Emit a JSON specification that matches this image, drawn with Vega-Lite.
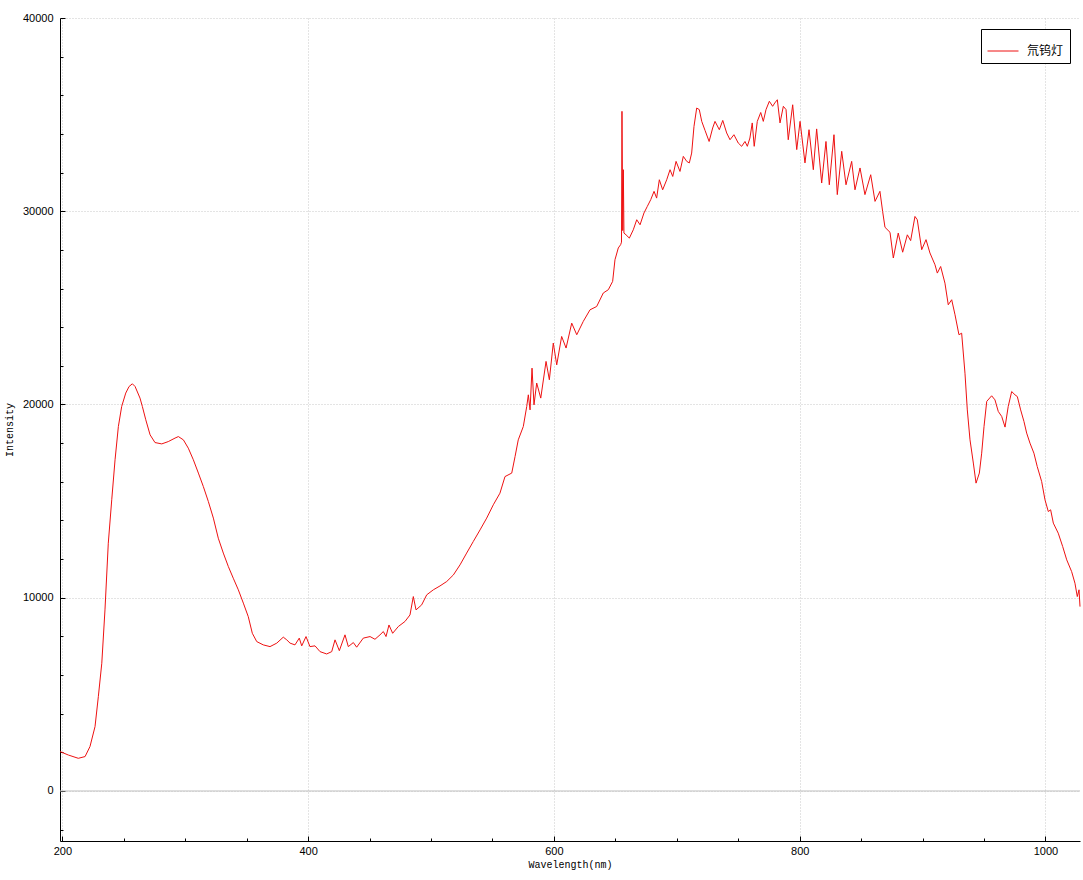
{
  "$schema": "https://vega.github.io/schema/vega-lite/v6.json",
  "autosize": "none",
  "width": 1020,
  "height": 823,
  "padding": {"left": 60, "top": 18, "right": 3, "bottom": 39},
  "background": "white",
  "view": {"stroke": null},
  "config": {
    "axis": {
      "labelFont": "Liberation Sans",
      "labelFontSize": 11,
      "labelColor": "#000000",
      "domainColor": "#000000",
      "tickColor": "#000000",
      "titleFont": "Liberation Mono",
      "titleFontSize": 10,
      "titleFontWeight": "normal",
      "titleColor": "#000000"
    }
  },
  "datasets": {
    "spec": [
      {"w":198.1,"v":2040,"s":"氘钨灯"},{"w":204.9,"v":1860,"s":"氘钨灯"},{"w":213.0,"v":1690,"s":"氘钨灯"},{"w":218.5,"v":1780,"s":"氘钨灯"},
      {"w":222.5,"v":2300,"s":"氘钨灯"},{"w":226.6,"v":3330,"s":"氘钨灯"},{"w":229.3,"v":4880,"s":"氘钨灯"},{"w":232.1,"v":6610,"s":"氘钨灯"},
      {"w":234.7,"v":9370,"s":"氘钨灯"},{"w":237.4,"v":12820,"s":"氘钨灯"},{"w":240.2,"v":15070,"s":"氘钨灯"},{"w":242.9,"v":17140,"s":"氘钨灯"},
      {"w":245.6,"v":18860,"s":"氘钨灯"},{"w":248.3,"v":19900,"s":"氘钨灯"},{"w":251.6,"v":20590,"s":"氘钨灯"},{"w":254.3,"v":20930,"s":"氘钨灯"},
      {"w":257.0,"v":21070,"s":"氘钨灯"},{"w":259.2,"v":20930,"s":"氘钨灯"},{"w":263.2,"v":20330,"s":"氘钨灯"},{"w":265.1,"v":19900,"s":"氘钨灯"},
      {"w":267.9,"v":19210,"s":"氘钨灯"},{"w":271.4,"v":18430,"s":"氘钨灯"},{"w":275.4,"v":18030,"s":"氘钨灯"},{"w":280.9,"v":17960,"s":"氘钨灯"},
      {"w":286.2,"v":18080,"s":"氘钨灯"},{"w":291.7,"v":18260,"s":"氘钨灯"},{"w":294.4,"v":18340,"s":"氘钨灯"},{"w":298.5,"v":18170,"s":"氘钨灯"},
      {"w":302.5,"v":17740,"s":"氘钨灯"},{"w":306.6,"v":17140,"s":"氘钨灯"},{"w":310.7,"v":16450,"s":"氘钨灯"},{"w":314.7,"v":15760,"s":"氘钨灯"},
      {"w":318.8,"v":14980,"s":"氘钨灯"},{"w":322.9,"v":14120,"s":"氘钨灯"},{"w":326.9,"v":13080,"s":"氘钨灯"},{"w":331.0,"v":12310,"s":"氘钨灯"},
      {"w":335.1,"v":11610,"s":"氘钨灯"},{"w":339.1,"v":11010,"s":"氘钨灯"},{"w":343.2,"v":10410,"s":"氘钨灯"},{"w":347.3,"v":9720,"s":"氘钨灯"},
      {"w":351.3,"v":9020,"s":"氘钨灯"},{"w":354.6,"v":8160,"s":"氘钨灯"},{"w":358.2,"v":7730,"s":"氘钨灯"},{"w":363.5,"v":7560,"s":"氘钨灯"},
      {"w":369.0,"v":7470,"s":"氘钨灯"},{"w":374.5,"v":7650,"s":"氘钨灯"},{"w":379.8,"v":7960,"s":"氘钨灯"},{"w":382.6,"v":7820,"s":"氘钨灯"},
      {"w":385.3,"v":7650,"s":"氘钨灯"},{"w":389.3,"v":7560,"s":"氘钨灯"},{"w":392.8,"v":7910,"s":"氘钨灯"},{"w":394.8,"v":7510,"s":"氘钨灯"},
      {"w":398.3,"v":7990,"s":"氘钨灯"},{"w":401.5,"v":7470,"s":"氘钨灯"},{"w":405.6,"v":7510,"s":"氘钨灯"},{"w":409.7,"v":7210,"s":"氘钨灯"},
      {"w":415.1,"v":7090,"s":"氘钨灯"},{"w":419.2,"v":7210,"s":"氘钨灯"},{"w":421.9,"v":7820,"s":"氘钨灯"},{"w":425.4,"v":7260,"s":"氘钨灯"},
      {"w":430.0,"v":8080,"s":"氘钨灯"},{"w":432.7,"v":7470,"s":"氘钨灯"},{"w":436.8,"v":7680,"s":"氘钨灯"},{"w":439.5,"v":7440,"s":"氘钨灯"},
      {"w":444.9,"v":7910,"s":"氘钨灯"},{"w":450.4,"v":7990,"s":"氘钨灯"},{"w":454.4,"v":7850,"s":"氘钨灯"},{"w":458.5,"v":8080,"s":"氘钨灯"},
      {"w":461.2,"v":8250,"s":"氘钨灯"},{"w":463.4,"v":7990,"s":"氘钨灯"},{"w":465.8,"v":8590,"s":"氘钨灯"},{"w":468.8,"v":8160,"s":"氘钨灯"},
      {"w":473.4,"v":8510,"s":"氘钨灯"},{"w":478.8,"v":8770,"s":"氘钨灯"},{"w":482.9,"v":9110,"s":"氘钨灯"},{"w":485.6,"v":10060,"s":"氘钨灯"},
      {"w":487.8,"v":9370,"s":"氘钨灯"},{"w":492.4,"v":9630,"s":"氘钨灯"},{"w":496.5,"v":10150,"s":"氘钨灯"},{"w":501.9,"v":10410,"s":"氘钨灯"},
      {"w":507.3,"v":10610,"s":"氘钨灯"},{"w":512.8,"v":10840,"s":"氘钨灯"},{"w":518.2,"v":11180,"s":"氘钨灯"},{"w":523.6,"v":11700,"s":"氘钨灯"},
      {"w":529.0,"v":12310,"s":"氘钨灯"},{"w":534.4,"v":12910,"s":"氘钨灯"},{"w":539.9,"v":13510,"s":"氘钨灯"},{"w":545.3,"v":14120,"s":"氘钨灯"},
      {"w":550.7,"v":14810,"s":"氘钨灯"},{"w":556.1,"v":15410,"s":"氘钨灯"},{"w":560.2,"v":16270,"s":"氘钨灯"},{"w":565.7,"v":16450,"s":"氘钨灯"},
      {"w":568.4,"v":17310,"s":"氘钨灯"},{"w":571.0,"v":18170,"s":"氘钨灯"},{"w":575.1,"v":18860,"s":"氘钨灯"},{"w":577.9,"v":19900,"s":"氘钨灯"},
      {"w":579.2,"v":20500,"s":"氘钨灯"},{"w":580.6,"v":19720,"s":"氘钨灯"},{"w":582.2,"v":21880,"s":"氘钨灯"},{"w":583.8,"v":19980,"s":"氘钨灯"},
      {"w":586.0,"v":21110,"s":"氘钨灯"},{"w":589.3,"v":20330,"s":"氘钨灯"},{"w":593.6,"v":22230,"s":"氘钨灯"},{"w":596.3,"v":21280,"s":"氘钨灯"},
      {"w":599.5,"v":23180,"s":"氘钨灯"},{"w":602.3,"v":22050,"s":"氘钨灯"},{"w":606.3,"v":23520,"s":"氘钨灯"},{"w":609.9,"v":22920,"s":"氘钨灯"},
      {"w":614.5,"v":24210,"s":"氘钨灯"},{"w":618.6,"v":23610,"s":"氘钨灯"},{"w":623.9,"v":24300,"s":"氘钨灯"},{"w":629.4,"v":24900,"s":"氘钨灯"},
      {"w":634.8,"v":25070,"s":"氘钨灯"},{"w":640.2,"v":25770,"s":"氘钨灯"},{"w":644.3,"v":25940,"s":"氘钨灯"},{"w":647.8,"v":26370,"s":"氘钨灯"},
      {"w":649.7,"v":27490,"s":"氘钨灯"},{"w":652.4,"v":28100,"s":"氘钨灯"},{"w":654.3,"v":28270,"s":"氘钨灯"},{"w":655.0,"v":28400,"s":"氘钨灯"},
      {"w":655.4,"v":35170,"s":"氘钨灯"},{"w":656.0,"v":29000,"s":"氘钨灯"},{"w":656.5,"v":32150,"s":"氘钨灯"},{"w":657.0,"v":28870,"s":"氘钨灯"},
      {"w":658.7,"v":28780,"s":"氘钨灯"},{"w":661.4,"v":28610,"s":"氘钨灯"},{"w":664.6,"v":29040,"s":"氘钨灯"},{"w":667.4,"v":29560,"s":"氘钨灯"},
      {"w":670.1,"v":29300,"s":"氘钨灯"},{"w":673.3,"v":29910,"s":"氘钨灯"},{"w":676.0,"v":30250,"s":"氘钨灯"},{"w":678.8,"v":30600,"s":"氘钨灯"},
      {"w":681.5,"v":31030,"s":"氘钨灯"},{"w":683.6,"v":30680,"s":"氘钨灯"},{"w":685.8,"v":31630,"s":"氘钨灯"},{"w":688.5,"v":31110,"s":"氘钨灯"},
      {"w":691.8,"v":31630,"s":"氘钨灯"},{"w":694.5,"v":32150,"s":"氘钨灯"},{"w":696.7,"v":31800,"s":"氘钨灯"},{"w":699.4,"v":32580,"s":"氘钨灯"},
      {"w":702.6,"v":32060,"s":"氘钨灯"},{"w":705.3,"v":32840,"s":"氘钨灯"},{"w":708.1,"v":32580,"s":"氘钨灯"},{"w":710.2,"v":32500,"s":"氘钨灯"},
      {"w":712.1,"v":33010,"s":"氘钨灯"},{"w":714.0,"v":34390,"s":"氘钨灯"},{"w":716.2,"v":35340,"s":"氘钨灯"},{"w":718.3,"v":35260,"s":"氘钨灯"},
      {"w":720.3,"v":34650,"s":"氘钨灯"},{"w":723.0,"v":34180,"s":"氘钨灯"},{"w":726.3,"v":33610,"s":"氘钨灯"},{"w":729.2,"v":34310,"s":"氘钨灯"},
      {"w":731.1,"v":34650,"s":"氘钨灯"},{"w":734.6,"v":34220,"s":"氘钨灯"},{"w":737.4,"v":34700,"s":"氘钨灯"},{"w":740.6,"v":34050,"s":"氘钨灯"},
      {"w":743.3,"v":33700,"s":"氘钨灯"},{"w":746.5,"v":33960,"s":"氘钨灯"},{"w":750.0,"v":33530,"s":"氘钨灯"},{"w":752.8,"v":33360,"s":"氘钨灯"},
      {"w":755.5,"v":33610,"s":"氘钨灯"},{"w":757.4,"v":33360,"s":"氘钨灯"},{"w":759.5,"v":33790,"s":"氘钨灯"},{"w":761.4,"v":34570,"s":"氘钨灯"},
      {"w":763.0,"v":33360,"s":"氘钨灯"},{"w":765.5,"v":34650,"s":"氘钨灯"},{"w":768.3,"v":35110,"s":"氘钨灯"},{"w":770.4,"v":34650,"s":"氘钨灯"},
      {"w":772.6,"v":35260,"s":"氘钨灯"},{"w":775.3,"v":35690,"s":"氘钨灯"},{"w":778.0,"v":35430,"s":"氘钨灯"},{"w":779.7,"v":35600,"s":"氘钨灯"},
      {"w":781.8,"v":35770,"s":"氘钨灯"},{"w":784.0,"v":34570,"s":"氘钨灯"},{"w":786.7,"v":35430,"s":"氘钨灯"},{"w":788.9,"v":35260,"s":"氘钨灯"},
      {"w":790.7,"v":33700,"s":"氘钨灯"},{"w":794.3,"v":35510,"s":"氘钨灯"},{"w":797.6,"v":33190,"s":"氘钨灯"},{"w":800.3,"v":34650,"s":"氘钨灯"},
      {"w":804.3,"v":32500,"s":"氘钨灯"},{"w":807.6,"v":34220,"s":"氘钨灯"},{"w":811.1,"v":32150,"s":"氘钨灯"},{"w":813.8,"v":34260,"s":"氘钨灯"},
      {"w":817.9,"v":31460,"s":"氘钨灯"},{"w":821.4,"v":33610,"s":"氘钨灯"},{"w":824.1,"v":31370,"s":"氘钨灯"},{"w":827.9,"v":33960,"s":"氘钨灯"},
      {"w":830.6,"v":30860,"s":"氘钨灯"},{"w":834.2,"v":33100,"s":"氘钨灯"},{"w":837.7,"v":31370,"s":"氘钨灯"},{"w":842.3,"v":32580,"s":"氘钨灯"},
      {"w":845.0,"v":31110,"s":"氘钨灯"},{"w":849.1,"v":32240,"s":"氘钨灯"},{"w":853.1,"v":30860,"s":"氘钨灯"},{"w":857.8,"v":31890,"s":"氘钨灯"},
      {"w":861.3,"v":30510,"s":"氘钨灯"},{"w":865.3,"v":31030,"s":"氘钨灯"},{"w":867.5,"v":29990,"s":"氘钨灯"},{"w":869.4,"v":29170,"s":"氘钨灯"},
      {"w":873.5,"v":28910,"s":"氘钨灯"},{"w":876.2,"v":27580,"s":"氘钨灯"},{"w":880.2,"v":28870,"s":"氘钨灯"},{"w":883.8,"v":27880,"s":"氘钨灯"},
      {"w":887.6,"v":28780,"s":"氘钨灯"},{"w":890.3,"v":28480,"s":"氘钨灯"},{"w":893.8,"v":29730,"s":"氘钨灯"},{"w":895.7,"v":29560,"s":"氘钨灯"},
      {"w":899.3,"v":28010,"s":"氘钨灯"},{"w":902.8,"v":28530,"s":"氘钨灯"},{"w":906.0,"v":27840,"s":"氘钨灯"},{"w":910.1,"v":27230,"s":"氘钨灯"},
      {"w":912.0,"v":26800,"s":"氘钨灯"},{"w":914.7,"v":27140,"s":"氘钨灯"},{"w":918.2,"v":26280,"s":"氘钨灯"},{"w":920.9,"v":25160,"s":"氘钨灯"},
      {"w":923.7,"v":25420,"s":"氘钨灯"},{"w":926.4,"v":24640,"s":"氘钨灯"},{"w":929.6,"v":23610,"s":"氘钨灯"},{"w":931.8,"v":23690,"s":"氘钨灯"},
      {"w":934.5,"v":21620,"s":"氘钨灯"},{"w":936.4,"v":19720,"s":"氘钨灯"},{"w":938.6,"v":18170,"s":"氘钨灯"},{"w":941.3,"v":16970,"s":"氘钨灯"},
      {"w":943.5,"v":15930,"s":"氘钨灯"},{"w":946.2,"v":16450,"s":"氘钨灯"},{"w":948.1,"v":17480,"s":"氘钨灯"},{"w":950.0,"v":18860,"s":"氘钨灯"},
      {"w":952.2,"v":20160,"s":"氘钨灯"},{"w":956.2,"v":20450,"s":"氘钨灯"},{"w":958.9,"v":20240,"s":"氘钨灯"},{"w":961.6,"v":19640,"s":"氘钨灯"},
      {"w":964.4,"v":19380,"s":"氘钨灯"},{"w":967.1,"v":18830,"s":"氘钨灯"},{"w":969.7,"v":19900,"s":"氘钨灯"},{"w":972.5,"v":20670,"s":"氘钨灯"},
      {"w":975.2,"v":20500,"s":"氘钨灯"},{"w":977.1,"v":20410,"s":"氘钨灯"},{"w":979.8,"v":19720,"s":"氘钨灯"},{"w":982.5,"v":19120,"s":"氘钨灯"},
      {"w":984.7,"v":18520,"s":"氘钨灯"},{"w":987.4,"v":18000,"s":"氘钨灯"},{"w":990.6,"v":17480,"s":"氘钨灯"},{"w":993.3,"v":16790,"s":"氘钨灯"},
      {"w":996.9,"v":16010,"s":"氘钨灯"},{"w":999.6,"v":15070,"s":"氘钨灯"},{"w":1002.3,"v":14460,"s":"氘钨灯"},{"w":1004.2,"v":14550,"s":"氘钨灯"},
      {"w":1006.4,"v":13860,"s":"氘钨灯"},{"w":1010.4,"v":13340,"s":"氘钨灯"},{"w":1014.0,"v":12650,"s":"氘钨灯"},{"w":1017.3,"v":11960,"s":"氘钨灯"},
      {"w":1021.3,"v":11350,"s":"氘钨灯"},{"w":1024.0,"v":10750,"s":"氘钨灯"},{"w":1025.9,"v":10060,"s":"氘钨灯"},{"w":1027.3,"v":10410,"s":"氘钨灯"},
      {"w":1028.1,"v":9540,"s":"氘钨灯"}
    ]
  },
  "resolve": {"axis": {"x": "independent", "y": "independent"}},
  "layer": [
    {
      "data": {"values": [{"z": 0}]},
      "mark": {"type": "rule", "color": "#c0c0c0", "strokeWidth": 1},
      "encoding": {
        "y": {"field": "z", "type": "quantitative", "scale": {"domain": [-2589, 40000], "nice": false, "zero": false}, "axis": null}
      }
    },
    {
      "data": {"name": "spec"},
      "mark": {"type": "line", "strokeWidth": 1, "interpolate": "linear"},
      "encoding": {
        "x": {
          "field": "w", "type": "quantitative",
          "scale": {"domain": [198.1, 1028.1], "nice": false, "zero": false},
          "axis": {
            "orient": "bottom", "values": [200, 400, 600, 800, 1000], "format": "d",
            "title": "Wavelength(nm)", "titleX": 510, "titleY": 23, "titleBaseline": "middle", "titleAnchor": null, "titleAlign": "center",
            "grid": true, "gridColor": "#c8c8c8", "gridDash": [1, 2], "gridWidth": 1,
            "tickSize": -5, "labelPadding": 9, "labelFlush": false, "labelOverlap": false,
            "domainWidth": 1
          }
        },
        "y": {
          "field": "v", "type": "quantitative",
          "scale": {"domain": [-2589, 40000], "nice": false, "zero": false},
          "axis": {
            "orient": "left", "values": [0, 10000, 20000, 30000, 40000], "format": "d",
            "title": "Intensity", "titleX": -51, "titleY": 411.5, "titleAngle": -90, "titleBaseline": "middle", "titleAlign": "center", "titleAnchor": null,
            "grid": true, "gridColor": "#c8c8c8", "gridDash": [1, 2], "gridWidth": 1,
            "tickSize": -5, "labelPadding": 12, "labelFlush": false, "labelOverlap": false,
            "domainWidth": 1
          }
        },
        "color": {
          "field": "s", "type": "nominal",
          "scale": {"range": ["#ee1111"]},
          "legend": {
            "title": null, "orient": "none", "legendX": 921, "legendY": 11,
            "symbolType": "stroke", "symbolSize": 961, "symbolStrokeWidth": 1,
            "labelFont": "Noto Sans CJK SC", "labelFontSize": 12, "labelColor": "#000000", "labelOffset": 8,
            "strokeColor": "#000000", "fillColor": "#ffffff", "padding": 6, "cornerRadius": 0
          }
        }
      }
    },
    {
      "data": {"name": "spec"},
      "mark": {"type": "point", "opacity": 0, "size": 1},
      "encoding": {
        "x": {
          "field": "w", "type": "quantitative",
          "scale": {"domain": [198.1, 1028.1], "nice": false, "zero": false},
          "axis": {
            "orient": "bottom", "values": [250, 300, 350, 450, 500, 550, 650, 700, 750, 850, 900, 950, 1050],
            "labels": false, "title": null, "grid": false, "domain": false, "tickSize": -3
          }
        },
        "y": {
          "field": "v", "type": "quantitative",
          "scale": {"domain": [-2589, 40000], "nice": false, "zero": false},
          "axis": {
            "orient": "left", "values": [-2000, 2000, 4000, 6000, 8000, 12000, 14000, 16000, 18000, 22000, 24000, 26000, 28000, 32000, 34000, 36000, 38000],
            "labels": false, "title": null, "grid": false, "domain": false, "tickSize": -3
          }
        }
      }
    }
  ]
}
